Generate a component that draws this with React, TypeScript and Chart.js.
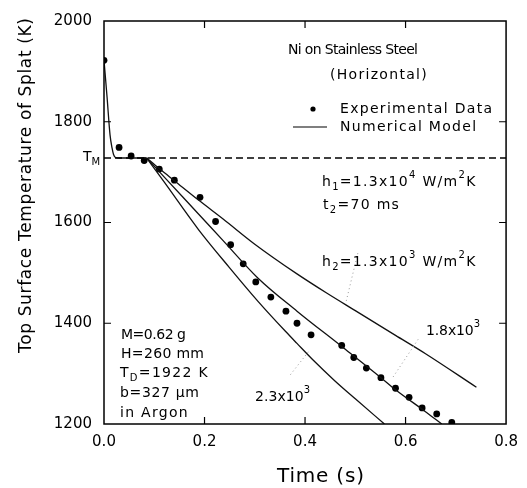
import React, { useEffect, useRef } from 'react';
import { Chart, registerables } from 'chart.js';

Chart.register(...registerables);

// ---------- data ----------
const xTicks = [0, 0.2, 0.4, 0.6, 0.8];
const yTicks = [1200, 1400, 1600, 1800, 2000];

const expTime = [0, 0.030, 0.054, 0.080, 0.110, 0.140, 0.191, 0.222, 0.252, 0.277, 0.302, 0.332, 0.362, 0.384, 0.412, 0.473, 0.497, 0.522, 0.551, 0.580, 0.607, 0.633, 0.662, 0.692];
const expTemp = [1922, 1749, 1732, 1723, 1706, 1684, 1650, 1602, 1556, 1518, 1482, 1452, 1424, 1400, 1377, 1356, 1332, 1311, 1292, 1271, 1253, 1232, 1220, 1203];

const initTime = [0, 0.006, 0.012, 0.016, 0.019, 0.023, 0.030, 0.085];
const initTemp = [1922, 1850, 1774, 1748, 1735, 1729, 1728, 1728];

const h13Time = [0.085, 0.11, 0.14, 0.19, 0.237, 0.30, 0.384, 0.443, 0.50, 0.58, 0.639, 0.741];
const h13Temp = [1728, 1707, 1683, 1643, 1607, 1557, 1498, 1460, 1425, 1376, 1340, 1273];

const h18Time = [0.085, 0.12, 0.188, 0.237, 0.306, 0.384, 0.473, 0.551, 0.58, 0.639, 0.672];
const h18Temp = [1728, 1690, 1617, 1564, 1490, 1424, 1354, 1292, 1268, 1225, 1200];

const h23Time = [0.085, 0.12, 0.188, 0.25, 0.306, 0.361, 0.384, 0.417, 0.459, 0.50, 0.558];
const h23Temp = [1728, 1680, 1586, 1510, 1444, 1384, 1360, 1326, 1286, 1250, 1200];

const meltTemp = 1728;
const meltTime = [0, 0.8];

const leadTopTime = [0.505, 0.481];
const leadTopTemp = [1539, 1440];
const leadMidTime = [0.625, 0.573];
const leadMidTemp = [1368, 1290];
const leadBotTime = [0.371, 0.408];
const leadBotTemp = [1298, 1345];

const zip = (xs: number[], ys: number[]) => xs.map((x, i) => ({ x, y: ys[i] }));

// ---------- text helpers ----------
type Seg = { s: string; k?: 'sub' | 'sup' };
const FONT = '"DejaVu Sans", sans-serif';

function segFont(size: number, k?: string) {
  const sz = k ? Math.round(size * 0.7) : size;
  return `${sz}px ${FONT}`;
}

function drawRich(ctx: CanvasRenderingContext2D, segs: Seg[], x: number, y: number, size: number, target?: number, lo = -0.6, hi = 1.3) {
  const c: any = ctx;
  c.letterSpacing = '0px';
  let natural = 0;
  let n = 0;
  const widths: number[] = [];
  for (const sg of segs) {
    ctx.font = segFont(size, sg.k);
    const w = ctx.measureText(sg.s).width;
    widths.push(w);
    natural += w;
    n += sg.s.length;
  }
  let sp = 0;
  if (target && n > 1) sp = Math.max(lo, Math.min(hi, (target - natural) / (n - 1)));
  let cx = x;
  ctx.textBaseline = 'middle';
  ctx.textAlign = 'left';
  segs.forEach((sg, i) => {
    ctx.font = segFont(size, sg.k);
    c.letterSpacing = sp + 'px';
    let dy = 0;
    if (sg.k === 'sub') dy = size * 0.42;
    if (sg.k === 'sup') dy = -size * 0.45;
    ctx.fillText(sg.s, cx, y + dy);
    cx += widths[i] + sp * sg.s.length;
  });
  c.letterSpacing = '0px';
}

const P = (s: string): Seg => ({ s });
const SUB = (s: string): Seg => ({ s, k: 'sub' });
const SUP = (s: string): Seg => ({ s, k: 'sup' });

const annotations: { segs: Seg[]; x: number; y: number; w?: number; size: number; lo?: number }[] = [
  { segs: [P('Ni on Stainless Steel')], x: 288, y: 50, w: 130, size: 14, lo: -0.8 },
  { segs: [P('(Horizontal)')], x: 330, y: 75, w: 97, size: 14 },
  { segs: [P('Experimental Data')], x: 340, y: 109, w: 152, size: 14 },
  { segs: [P('Numerical Model')], x: 340, y: 127, w: 138, size: 14 },
  { segs: [P('h'), SUB('1'), P('=1.3x10'), SUP('4'), P(' W/m'), SUP('2'), P('K')], x: 322, y: 182, w: 165, size: 14 },
  { segs: [P('t'), SUB('2'), P('=70 ms')], x: 323, y: 205, w: 80, size: 14 },
  { segs: [P('h'), SUB('2'), P('=1.3x10'), SUP('3'), P(' W/m'), SUP('2'), P('K')], x: 322, y: 262, w: 163, size: 14 },
  { segs: [P('1.8x10'), SUP('3')], x: 426, y: 331, w: 54, size: 14 },
  { segs: [P('2.3x10'), SUP('3')], x: 255, y: 397, w: 55, size: 14 },
  { segs: [P('M=0.62 g')], x: 121, y: 335, w: 65, size: 14 },
  { segs: [P('H=260 mm')], x: 121, y: 354, w: 83, size: 14 },
  { segs: [P('T'), SUB('D'), P('=1922 K')], x: 120, y: 373, w: 100, size: 14 },
  { segs: [P('b=327 μm')], x: 120, y: 393, w: 79, size: 14 },
  { segs: [P('in Argon')], x: 120, y: 413, w: 76, size: 14 },
];

const decorPlugin = {
  id: 'decor',
  beforeDraw(chart: any) {
    const ctx = chart.ctx as CanvasRenderingContext2D;
    ctx.save();
    ctx.fillStyle = '#fff';
    ctx.fillRect(0, 0, chart.width, chart.height);
    ctx.restore();
  },
  afterDraw(chart: any) {
    const ctx = chart.ctx as CanvasRenderingContext2D;
    const a = chart.chartArea;
    const xs = chart.scales.x;
    const ys = chart.scales.y;
    ctx.save();
    // frame
    ctx.strokeStyle = '#000';
    ctx.lineWidth = 1.5;
    ctx.strokeRect(a.left, a.top, a.right - a.left, a.bottom - a.top);
    // inward ticks
    ctx.lineWidth = 1.2;
    const tl = 7;
    xTicks.slice(1, -1).forEach((v) => {
      const px = xs.getPixelForValue(v);
      ctx.beginPath();
      ctx.moveTo(px, a.bottom); ctx.lineTo(px, a.bottom - tl);
      ctx.moveTo(px, a.top); ctx.lineTo(px, a.top + tl);
      ctx.stroke();
    });
    yTicks.slice(1, -1).forEach((v) => {
      const py = ys.getPixelForValue(v);
      ctx.beginPath();
      ctx.moveTo(a.left, py); ctx.lineTo(a.left + tl, py);
      ctx.moveTo(a.right, py); ctx.lineTo(a.right - tl, py);
      ctx.stroke();
    });
    // legend marks
    ctx.fillStyle = '#000';
    ctx.beginPath();
    ctx.arc(313, 109, 2.6, 0, Math.PI * 2);
    ctx.fill();
    ctx.lineWidth = 1.1;
    ctx.beginPath();
    ctx.moveTo(293, 127); ctx.lineTo(327, 127);
    ctx.stroke();
    // annotations
    ctx.fillStyle = '#000';
    annotations.forEach((an) => drawRich(ctx, an.segs, an.x, an.y, an.size, an.w, an.lo ?? -0.6));
    // T_M label
    const tmY = ys.getPixelForValue(meltTemp);
    drawRich(ctx, [P('T'), SUB('M')], a.left - 21, tmY - 1, 14);
    // axis titles
    drawRich(ctx, [P('Time (s)')], 277, 477, 20, 87, -1, 2);
    ctx.translate(27, 353);
    ctx.rotate(-Math.PI / 2);
    drawRich(ctx, [P('Top Surface Temperature of Splat (K)')], 0, 0, 17, 335, -1, 2);
    ctx.restore();
  },
};

export default function App() {
  const ref = useRef<HTMLCanvasElement | null>(null);
  useEffect(() => {
    if (!ref.current) return;
    const lineBase = {
      type: 'line' as const,
      showLine: true,
      pointRadius: 0,
      borderColor: '#111',
      borderWidth: 1.3,
      fill: false,
      cubicInterpolationMode: 'monotone' as const,
    };
    const leader = {
      type: 'line' as const,
      showLine: true,
      pointRadius: 0,
      borderColor: '#999',
      borderWidth: 1,
      borderDash: [1, 3],
      fill: false,
    };
    const chart = new Chart(ref.current, {
      type: 'scatter',
      data: {
        datasets: [
          { ...leader, data: zip(leadTopTime, leadTopTemp) },
          { ...leader, data: zip(leadMidTime, leadMidTemp) },
          { ...leader, data: zip(leadBotTime, leadBotTemp) },
          {
            type: 'line', showLine: true, pointRadius: 0, borderColor: '#000', borderWidth: 1.4,
            borderDash: [7, 4], fill: false,
            data: meltTime.map((x) => ({ x, y: meltTemp })),
          },
          { ...lineBase, data: zip(initTime, initTemp) },
          { ...lineBase, data: zip(h13Time, h13Temp) },
          { ...lineBase, data: zip(h18Time, h18Temp) },
          { ...lineBase, data: zip(h23Time, h23Temp) },
          {
            type: 'scatter', data: zip(expTime, expTemp), pointRadius: 3.4,
            backgroundColor: '#000', borderColor: '#000', borderWidth: 0, showLine: false,
          },
        ] as any,
      },
      options: {
        animation: false,
        responsive: false,
        devicePixelRatio: 1,
        layout: { padding: { left: 0, top: 15, right: 15, bottom: 0 } },
        plugins: { legend: { display: false }, tooltip: { enabled: false } },
        scales: {
          x: {
            type: 'linear', min: 0, max: 0.8,
            grid: { display: false, drawTicks: false },
            border: { display: false },
            ticks: {
              stepSize: 0.2, padding: 9, color: '#000',
              font: { family: '"DejaVu Sans", sans-serif', size: 15 },
              callback: (v: any) => Number(v).toFixed(1),
            },
            afterFit: (s: any) => { s.height = 64; },
          },
          y: {
            type: 'linear', min: 1200, max: 2000,
            grid: { display: false, drawTicks: false },
            border: { display: false },
            ticks: {
              stepSize: 200, padding: 12, color: '#000',
              font: { family: '"DejaVu Sans", sans-serif', size: 15 },
              callback: (v: any) => String(Math.round(Number(v))),
            },
            afterFit: (s: any) => { s.width = 104; },
          },
        },
      } as any,
      plugins: [decorPlugin],
    });
    return () => chart.destroy();
  }, []);
  return (
    <div style={{ position: 'fixed', left: 0, top: 0, width: 527, height: 488, background: '#fff' }}>
      <canvas ref={ref} width={527} height={488} style={{ display: 'block' }} />
    </div>
  );
}
